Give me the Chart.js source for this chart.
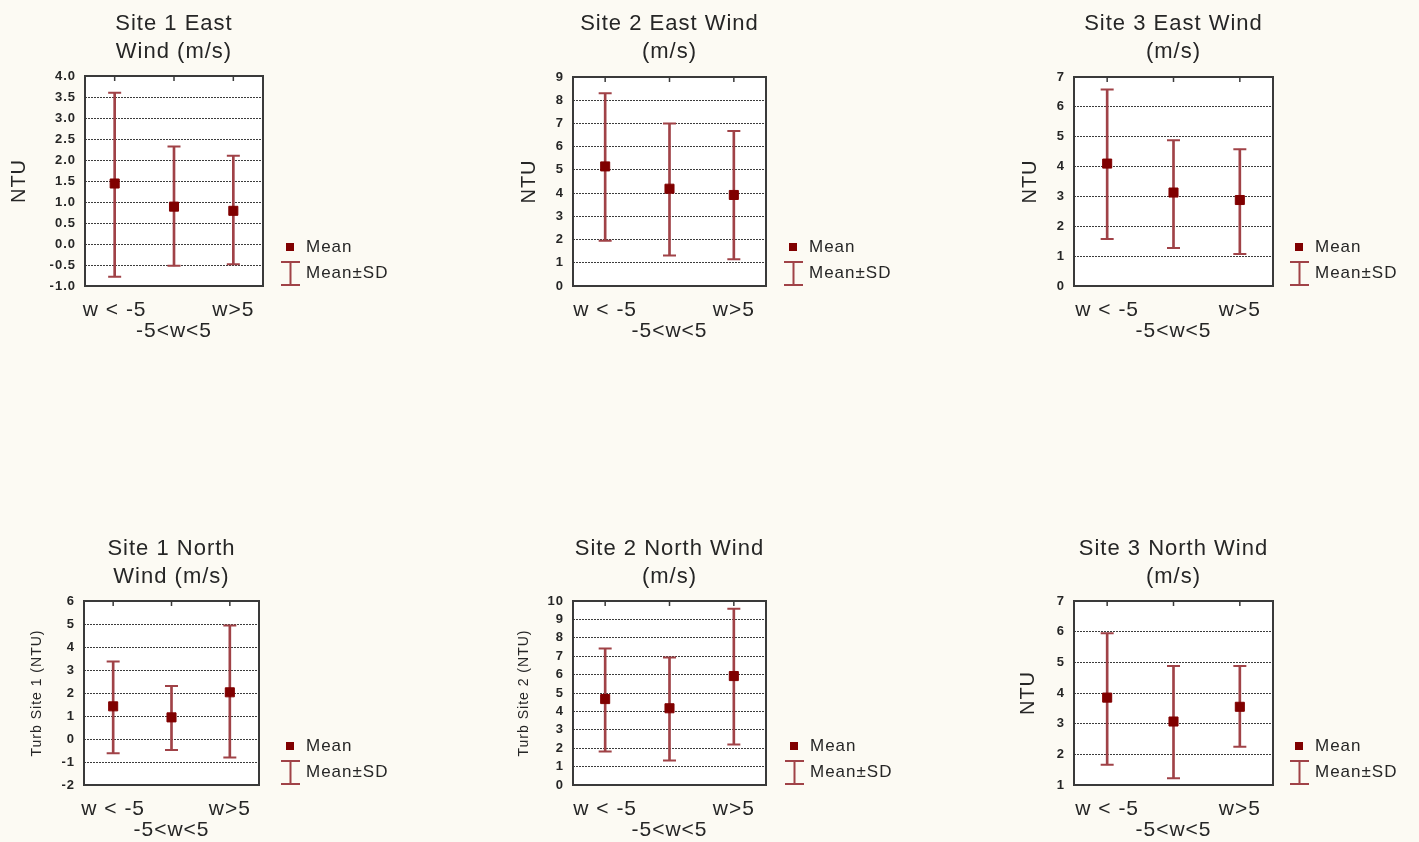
<!DOCTYPE html>
<html>
<head>
<meta charset="utf-8">
<script src="https://cdn.jsdelivr.net/npm/chart.js@4.4.0/dist/chart.umd.min.js"></script>
<style>
  html, body { margin: 0; padding: 0; background: #fcfaf3; }
  body { width: 1419px; height: 842px; position: relative; overflow: hidden; }
  canvas { position: absolute; }
</style>
</head>
<body>
<canvas id="c1" width="420" height="345" style="left:0px;top:0px"></canvas>
<canvas id="c2" width="420" height="345" style="left:480px;top:0px"></canvas>
<canvas id="c3" width="420" height="345" style="left:990px;top:0px"></canvas>
<canvas id="c4" width="420" height="317" style="left:0px;top:525px"></canvas>
<canvas id="c5" width="420" height="317" style="left:480px;top:525px"></canvas>
<canvas id="c6" width="420" height="317" style="left:990px;top:525px"></canvas>
<script>
// wind classes on the x axis
const categories = ['w < -5', '-5<w<5', 'w>5'];

// Site 1 East wind
const s1eMean = [1.44, 0.89, 0.79];
const s1eLow  = [-0.78, -0.52, -0.48];
const s1eHigh = [3.60, 2.32, 2.10];
const s1eAxis = [-1, 4, 0.5];   // min, max, step

// Site 2 East wind
const s2eMean = [5.15, 4.19, 3.92];
const s2eLow  = [1.95, 1.31, 1.15];
const s2eHigh = [8.30, 7.00, 6.68];
const s2eAxis = [0, 9, 1];

// Site 3 East wind
const s3eMean = [4.10, 3.13, 2.88];
const s3eLow  = [1.57, 1.27, 1.07];
const s3eHigh = [6.58, 4.88, 4.58];
const s3eAxis = [0, 7, 1];

// Site 1 North wind
const s1nMean = [1.42, 0.94, 2.03];
const s1nLow  = [-0.62, -0.48, -0.80];
const s1nHigh = [3.37, 2.30, 4.93];
const s1nAxis = [-2, 6, 1];

// Site 2 North wind
const s2nMean = [4.67, 4.17, 5.92];
const s2nLow  = [1.82, 1.33, 2.20];
const s2nHigh = [7.42, 6.93, 9.58];
const s2nAxis = [0, 10, 1];

// Site 3 North wind
const s3nMean = [3.85, 3.07, 3.55];
const s3nLow  = [1.66, 1.22, 2.25];
const s3nHigh = [5.95, 4.88, 4.88];
const s3nAxis = [1, 7, 1];

const FONT = '"Liberation Sans", Arial, sans-serif';
const INK = '#262626';
const MEAN_COLOR = '#800000';
const BAR_COLOR = '#a04247';

// white plot box, frame and the little category ticks on top
const framePlugin = {
  id: 'frame',
  beforeLayout(chart) {
    chart.ctx.letterSpacing = '1px';
  },
  beforeDraw(chart) {
    const { ctx, chartArea: a } = chart;
    ctx.letterSpacing = '1px';
    ctx.save();
    ctx.fillStyle = '#ffffff';
    ctx.fillRect(a.left, a.top, a.width, a.height);
    ctx.restore();
  },
  beforeDatasetsDraw(chart) {
    const { ctx, chartArea: a } = chart;
    const x = chart.scales.x;
    ctx.save();
    ctx.strokeStyle = '#3a3a3a';
    ctx.lineWidth = 2;
    ctx.strokeRect(a.left, a.top, a.width, a.height);
    ctx.lineWidth = 1.5;
    ctx.beginPath();
    categories.forEach((c, i) => {
      const px = x.getPixelForValue(i);
      ctx.moveTo(px, a.top);
      ctx.lineTo(px, a.top + 5);
    });
    ctx.stroke();
    ctx.restore();
  }
};

function legendPlugin(lx) {
  return {
    id: 'sdLegend',
    afterDraw(chart) {
      const { ctx, chartArea: a } = chart;
      const yb = a.bottom;
      ctx.save();
      ctx.fillStyle = MEAN_COLOR;
      ctx.fillRect(lx - 4, yb - 43, 8, 8);
      ctx.strokeStyle = BAR_COLOR;
      ctx.lineWidth = 2;
      ctx.beginPath();
      ctx.moveTo(lx - 9, yb - 24); ctx.lineTo(lx + 10, yb - 24);
      ctx.moveTo(lx + 0.5, yb - 24); ctx.lineTo(lx + 0.5, yb - 1);
      ctx.moveTo(lx - 9, yb - 1); ctx.lineTo(lx + 10, yb - 1);
      ctx.stroke();
      ctx.fillStyle = INK;
      ctx.font = '17px ' + FONT;
      ctx.textBaseline = 'middle';
      ctx.textAlign = 'left';
      ctx.fillText('Mean', lx + 16, yb - 39);
      ctx.fillText('Mean\u00B1SD', lx + 16, yb - 13);
      ctx.restore();
    }
  };
}

function makeChart(id, p) {
  const canvas = document.getElementById(id);
  const W = canvas.width, H = canvas.height;
  const bars = p.low.map((v, i) => [v, p.high[i]]);
  return new Chart(canvas, {
    type: 'bar',
    data: {
      labels: categories,
      datasets: [
        { type: 'line', label: 'Mean', data: p.mean, showLine: false, pointStyle: 'rect',
          pointRadius: 6.4, pointBorderWidth: 1, pointBackgroundColor: MEAN_COLOR,
          pointBorderColor: MEAN_COLOR, order: 1 },
        { type: 'line', label: 'SD high', data: p.high, showLine: false, pointStyle: 'line',
          pointRadius: 6.5, pointBorderWidth: 2, pointBorderColor: BAR_COLOR, order: 2 },
        { type: 'line', label: 'SD low', data: p.low, showLine: false, pointStyle: 'line',
          pointRadius: 6.5, pointBorderWidth: 2, pointBorderColor: BAR_COLOR, order: 2 },
        { type: 'bar', label: 'Mean\u00B1SD', data: bars, barThickness: 2, grouped: false,
          backgroundColor: BAR_COLOR, borderWidth: 0, order: 3 }
      ]
    },
    options: {
      responsive: false,
      animation: false,
      events: [],
      layout: { padding: { left: 0, right: W - p.right, top: 0, bottom: 0 } },
      plugins: {
        legend: { display: false },
        tooltip: { enabled: false },
        title: {
          display: true,
          text: p.title,
          fullSize: false,
          color: INK,
          font: { family: FONT, size: 22, weight: 'normal', lineHeight: 28 / 22 },
          padding: { top: p.titleTop, bottom: p.top - p.titleTop - 56 }
        }
      },
      scales: {
        x: {
          grid: { display: false },
          border: { display: false },
          ticks: {
            color: INK,
            font: { family: FONT, size: 21, lineHeight: 1 },
            padding: 6,
            maxRotation: 0,
            autoSkip: false,
            callback: (v, i) => (i === 1 ? ['', categories[i]] : categories[i])
          },
          afterFit: s => { s.height = H - p.bottom; }
        },
        y: {
          min: p.axis[0],
          max: p.axis[1],
          grid: { color: '#3c3c3c', lineWidth: 1, drawTicks: false },
          border: { display: false, dash: [2, 1] },
          ticks: {
            stepSize: p.axis[2],
            color: INK,
            font: { family: FONT, size: 13, weight: 'bold' },
            padding: 9,
            autoSkip: false,
            callback: v => (p.axis[2] < 1 ? v.toFixed(1) : String(v))
          },
          title: {
            display: true,
            text: p.yTitle,
            color: INK,
            font: { family: FONT, size: p.yTitleSize, lineHeight: 1 },
            padding: { top: p.yTitleX - p.yTitleSize / 2, bottom: 0 }
          },
          afterFit: s => { s.width = p.left; }
        }
      }
    },
    plugins: [framePlugin, legendPlugin(p.legendX)]
  });
}

makeChart('c1', { title: ['Site 1 East', 'Wind (m/s)'], mean: s1eMean, low: s1eLow, high: s1eHigh, axis: s1eAxis,
  yTitle: 'NTU', yTitleSize: 20, yTitleX: 19, left: 85, right: 263, top: 76, bottom: 286, titleTop: 10, legendX: 290 });
makeChart('c2', { title: ['Site 2 East Wind', '(m/s)'], mean: s2eMean, low: s2eLow, high: s2eHigh, axis: s2eAxis,
  yTitle: 'NTU', yTitleSize: 20, yTitleX: 49, left: 93, right: 286, top: 77, bottom: 286, titleTop: 10, legendX: 313 });
makeChart('c3', { title: ['Site 3 East Wind', '(m/s)'], mean: s3eMean, low: s3eLow, high: s3eHigh, axis: s3eAxis,
  yTitle: 'NTU', yTitleSize: 20, yTitleX: 40, left: 84, right: 283, top: 77, bottom: 286, titleTop: 10, legendX: 309 });
makeChart('c4', { title: ['Site 1 North', 'Wind (m/s)'], mean: s1nMean, low: s1nLow, high: s1nHigh, axis: s1nAxis,
  yTitle: 'Turb Site 1 (NTU)', yTitleSize: 14, yTitleX: 37, left: 84, right: 259, top: 76, bottom: 260, titleTop: 10, legendX: 290 });
makeChart('c5', { title: ['Site 2 North Wind', '(m/s)'], mean: s2nMean, low: s2nLow, high: s2nHigh, axis: s2nAxis,
  yTitle: 'Turb Site 2 (NTU)', yTitleSize: 14, yTitleX: 44, left: 93, right: 286, top: 76, bottom: 260, titleTop: 10, legendX: 314 });
makeChart('c6', { title: ['Site 3 North Wind', '(m/s)'], mean: s3nMean, low: s3nLow, high: s3nHigh, axis: s3nAxis,
  yTitle: 'NTU', yTitleSize: 20, yTitleX: 38, left: 84, right: 283, top: 76, bottom: 260, titleTop: 10, legendX: 309 });
</script>
</body>
</html>
